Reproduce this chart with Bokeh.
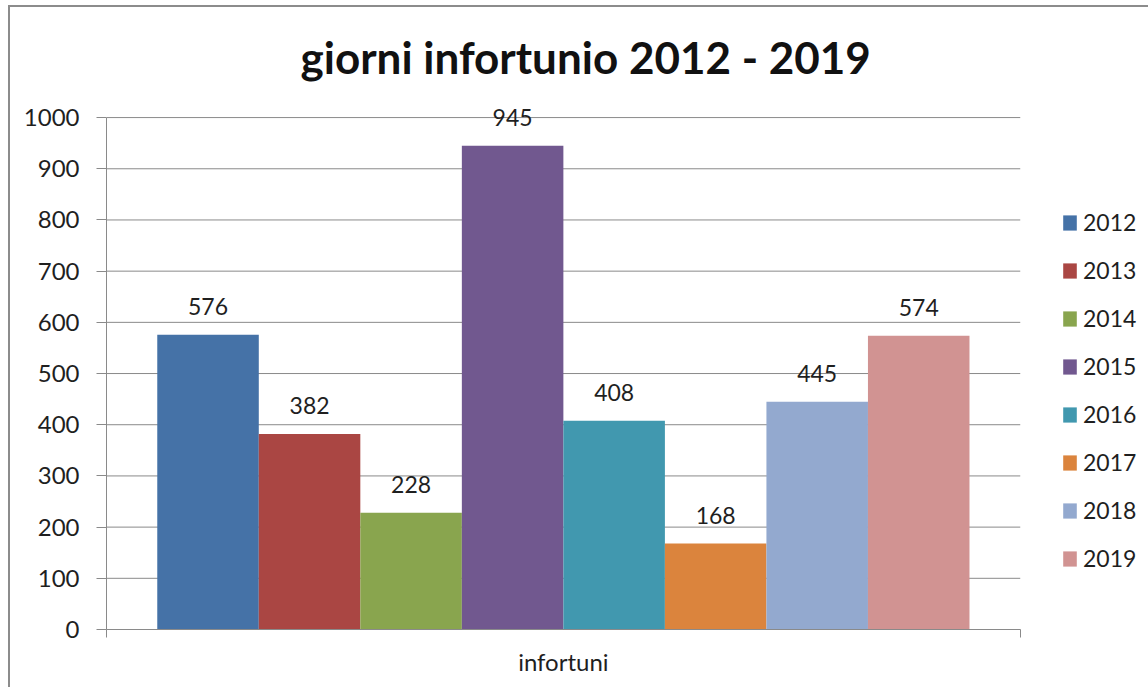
from bokeh.plotting import figure
from bokeh.models import ColumnDataSource, FixedTicker, Legend, LegendItem
from bokeh.embed import file_html
from bokeh.resources import INLINE
from bokeh.core.properties import value

# ---- data ----
title_text = "giorni infortunio 2012 - 2019"
category = "infortuni"
years = ["2012", "2013", "2014", "2015", "2016", "2017", "2018", "2019"]
values = [576, 382, 228, 945, 408, 168, 445, 574]
colors = ["#4572A7", "#AA4643", "#89A54E", "#71588F", "#4198AF", "#DB843D", "#93A9CF", "#D19392"]
y_ticks = [0, 100, 200, 300, 400, 500, 600, 700, 800, 900, 1000]

FONT = "Lato"
TXT = "#1f1f1f"
GRAY = "#8a8a8a"

W, H = 1138, 680
LEFT, TOP, BOTTOM = 96, 90, 60
PLOT_W_PX = 912      # width of the category area in pixels
PLOT_H_PX = 510      # height of 0..1000 in pixels
Y_TOP_PAD_PX = 20    # room above the 1000 line for labels

n = len(years)
x_start = -1
x_end = x_start + (W - LEFT) * (n + 1) / PLOT_W_PX
y_end = y_ticks[-1] + Y_TOP_PAD_PX * (y_ticks[-1] - y_ticks[0]) / PLOT_H_PX
x_center = (x_start + n) / 2

positions = list(range(n))
src = ColumnDataSource(dict(x=positions, top=values, year=years, color=colors,
                            label=[str(v) for v in values]))
grid_src = ColumnDataSource(dict(x0=[x_start] * len(y_ticks), x1=[n] * len(y_ticks), y=y_ticks))

p = figure(width=W, height=H, x_range=(x_start, x_end), y_range=(y_ticks[0], y_end),
           output_backend="svg", toolbar_location=None,
           min_border_left=LEFT, min_border_right=0, min_border_top=TOP, min_border_bottom=BOTTOM)
p.styles = {"margin-left": "8px", "margin-top": "5px", "box-sizing": "content-box",
            "border-left": "2px solid #8c8c8c", "border-top": "2px solid #8c8c8c"}
p.outline_line_color = None
p.xgrid.visible = False
p.ygrid.visible = False

# horizontal grid lines restricted to the category area
p.segment(x0="x0", x1="x1", y0="y", y1="y", source=grid_src, line_color=GRAY, line_width=1,
          level="underlay")

r = p.vbar(x="x", top="top", width=1, fill_color="color", line_color=None, source=src)
p.text(x="x", y="top", text="label", source=src, text_align="center", text_baseline="alphabetic",
       y_offset=-28, text_font=value(FONT), text_font_size="23px", text_color=TXT)

# title
p.title.text = title_text
p.title.text_font = FONT
p.title.text_font_style = "bold"
p.title.text_font_size = "44px"
p.title.align = "left"
p.title.offset = 194
p.title.standoff = 29
p.title.text_color = "#111111"

# x axis: category label in the middle, boundary ticks as minor ticks
p.xaxis.bounds = (x_start, n)
p.xaxis.ticker = FixedTicker(ticks=[x_center], minor_ticks=[x_start, n])
p.xaxis.major_label_overrides = {x_center: category}
p.xaxis.major_label_text_font = FONT
p.xaxis.major_label_text_font_size = "24px"
p.xaxis.major_label_text_color = TXT
p.xaxis.major_label_standoff = 9
p.xaxis.major_tick_line_color = None
p.xaxis.major_tick_in = 0
p.xaxis.major_tick_out = 0
p.xaxis.minor_tick_in = 0
p.xaxis.minor_tick_out = 8
p.xaxis.minor_tick_line_color = GRAY
p.xaxis.axis_line_color = GRAY

# y axis
p.yaxis.bounds = (y_ticks[0], y_ticks[-1])
p.yaxis.ticker = FixedTicker(ticks=y_ticks)
p.yaxis.major_label_text_font = FONT
p.yaxis.major_label_text_font_size = "24px"
p.yaxis.major_label_text_color = TXT
p.yaxis.major_label_standoff = 17
p.yaxis.major_tick_in = 0
p.yaxis.major_tick_out = 10
p.yaxis.minor_tick_line_color = None
p.yaxis.axis_line_color = GRAY
p.yaxis.major_tick_line_color = GRAY

# legend
items = [LegendItem(label=y, renderers=[r], index=i) for i, y in enumerate(years)]
legend = Legend(items=items, location=(955, 56), padding=0, margin=0, border_line_color=None,
                background_fill_alpha=0, glyph_width=17, glyph_height=19, label_standoff=5,
                label_height=30, spacing=18, label_text_font=FONT, label_text_font_size="23px",
                label_text_color=TXT)
p.add_layout(legend, "center")

open("out.html", "w").write(file_html(p, INLINE))
